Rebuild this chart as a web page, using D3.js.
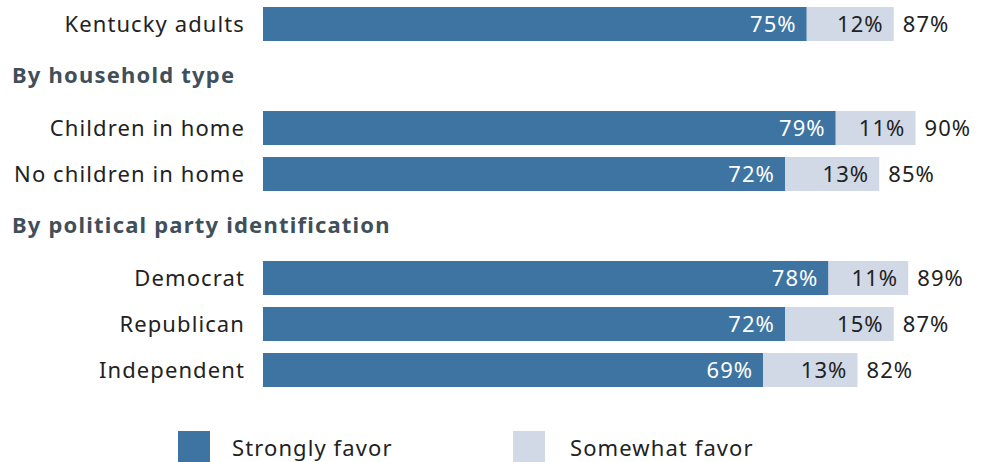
<!DOCTYPE html>
<html>
<head>
<meta charset="utf-8">
<script src="https://cdn.jsdelivr.net/npm/d3@7"></script>
<style>
  body { margin: 0; background: #fff; }
  text { font-family: "Noto Sans", sans-serif; font-size: 22px; letter-spacing: 1.1px; }
</style>
</head>
<body>
<div id="main"></div>
<script>
// values
const groups = [null, 'By household type', 'By political party identification'];
const categories = ['Kentucky adults', 'Children in home', 'No children in home', 'Democrat', 'Republican', 'Independent'];
const groupOf = [0, 1, 1, 2, 2, 2];
const strongly = [75, 79, 72, 78, 72, 69];
const somewhat = [12, 11, 13, 11, 15, 13];
const totals = [87, 90, 85, 89, 87, 82];
const seriesNames = ['Strongly favor', 'Somewhat favor'];

const colors = { strong: '#3e74a1', some: '#d1d9e6', text: '#222', head: '#414f5b' };

const width = 986, height = 462;
const svg = d3.select('#main').append('svg')
  .attr('width', width)
  .attr('height', height);

const x = d3.scaleLinear().domain([0, 100]).range([263, 988]);

// vertical layout: groups stacked, each with a header above (except first)
const rowStep = 46, barH = 34, headGap = 58, startY = 7;
const rowY = [];
let cursor = startY;
groups.forEach((g, gi) => {
  const idx = categories.map((c, i) => i).filter(i => groupOf[i] === gi);
  if (gi > 0) {
    svg.append('text')
      .attr('x', 12)
      .attr('y', cursor - 28)
      .attr('font-weight', 700)
      .style('letter-spacing', '1.2px')
      .attr('fill', colors.head)
      .text(g);
  }
  idx.forEach((i, k) => rowY[i] = cursor + k * rowStep);
  cursor += idx.length * rowStep + headGap;
});

const rows = categories.map((c, i) => ({
  name: c, y: rowY[i], a: strongly[i], b: somewhat[i], t: totals[i]
}));

const row = svg.selectAll('.row')
  .data(rows)
  .enter().append('g')
  .attr('class', 'row')
  .attr('transform', d => 'translate(0,' + d.y + ')');

row.append('text')
  .attr('x', 245)
  .attr('y', barH / 2)
  .attr('dy', '0.35em')
  .attr('text-anchor', 'end')
  .attr('fill', colors.text)
  .text(d => d.name);

row.append('rect')
  .attr('x', x(0))
  .attr('width', d => x(d.a) - x(0))
  .attr('height', barH)
  .attr('fill', colors.strong);

row.append('rect')
  .attr('x', d => x(d.a))
  .attr('width', d => x(d.a + d.b) - x(d.a))
  .attr('height', barH)
  .attr('fill', colors.some);

row.append('text')
  .attr('x', d => x(d.a) - 10)
  .attr('y', barH / 2)
  .attr('dy', '0.35em')
  .attr('text-anchor', 'end')
  .attr('fill', '#fff')
  .text(d => d.a + '%');

row.append('text')
  .attr('x', d => x(d.a + d.b) - 10)
  .attr('y', barH / 2)
  .attr('dy', '0.35em')
  .attr('text-anchor', 'end')
  .attr('fill', colors.text)
  .text(d => d.b + '%');

row.append('text')
  .attr('x', d => x(d.a + d.b) + 9)
  .attr('y', barH / 2)
  .attr('dy', '0.35em')
  .attr('fill', colors.text)
  .text(d => d.t + '%');

// legend
const legendX = [178, 513];
const legend = svg.selectAll('.legend')
  .data(seriesNames)
  .enter().append('g')
  .attr('class', 'legend')
  .attr('transform', (d, i) => 'translate(' + legendX[i] + ',431)');

legend.append('rect')
  .attr('width', 32)
  .attr('height', 34)
  .attr('fill', (d, i) => i === 0 ? colors.strong : colors.some);

legend.append('text')
  .attr('x', (d, i) => i === 0 ? 54 : 57)
  .attr('y', 17)
  .attr('dy', '0.35em')
  .attr('fill', colors.text)
  .text(d => d);
</script>
</body>
</html>
